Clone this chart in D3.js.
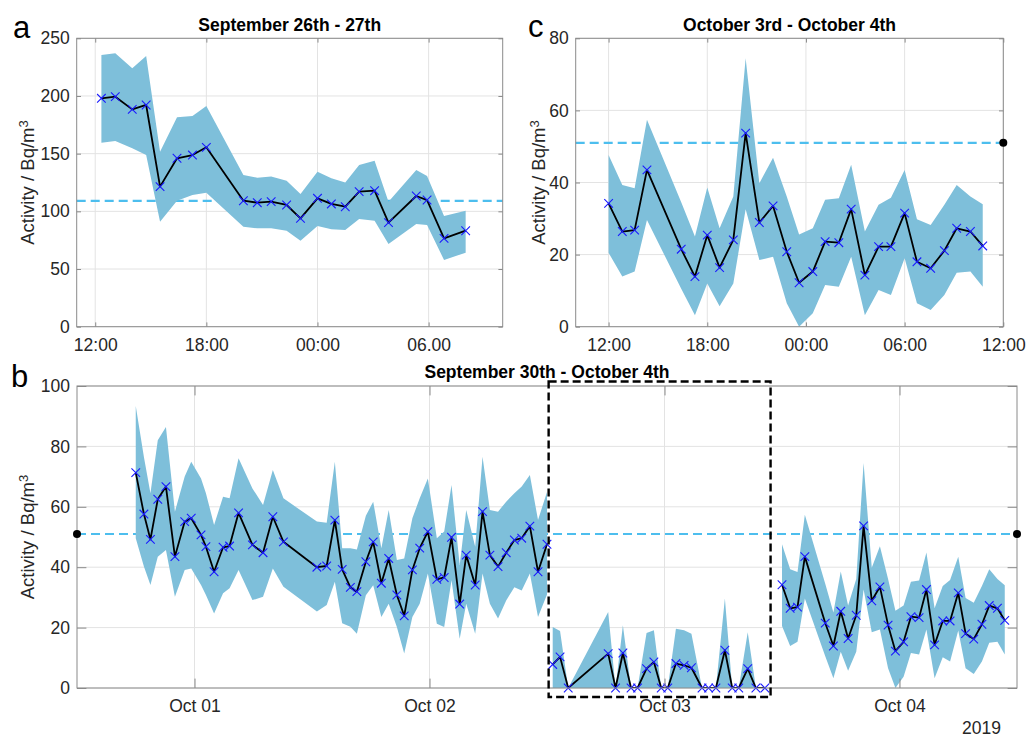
<!DOCTYPE html>
<html>
<head>
<meta charset="utf-8">
<script src="https://cdn.jsdelivr.net/npm/d3@7"></script>
<style>
  html, body { margin: 0; padding: 0; background: #fff; }
  svg { display: block; font-family: "Liberation Sans", Arial, Helvetica, sans-serif; }
</style>
</head>
<body>
<svg id="chart" width="1027" height="737"></svg>
<script>
// ---------------- DATA ----------------
// Panel a: September 26th - 27th
const timesA = ["2019-09-26 12:20","2019-09-26 13:05","2019-09-26 14:00","2019-09-26 14:45","2019-09-26 15:30","2019-09-26 16:25","2019-09-26 17:15","2019-09-26 18:00","2019-09-26 20:00","2019-09-26 20:45","2019-09-26 21:30","2019-09-26 22:20","2019-09-26 23:05","2019-09-27 00:00","2019-09-27 00:45","2019-09-27 01:30","2019-09-27 02:15","2019-09-27 03:05","2019-09-27 03:50","2019-09-27 05:20","2019-09-27 05:55","2019-09-27 06:50","2019-09-27 08:00"];
const valuesA = [198, 199.4, 188.4, 192.2, 121.4, 146, 148.8, 155.5, 109.2, 107.5, 108.4, 105.5, 93.9, 111.3, 106.4, 104, 117.1, 117.9, 90.2, 113.3, 109.8, 76.6, 83.2];
const upperA  = [235.5, 237, 224, 234.7, 151.7, 181.5, 182.7, 191.3, 131.5, 129.2, 130.1, 126.6, 115, 134.4, 128.6, 124.9, 140.2, 143.9, 108.4, 135.8, 130.6, 96, 100.6];
const lowerA  = [159.5, 161, 154.6, 148.8, 91, 109.2, 114.2, 116.2, 86.7, 85.3, 85.3, 83.2, 74.6, 87.3, 84.4, 83.8, 93.4, 91.9, 71.7, 89, 88.2, 57.8, 64.2];
const refA = 109;

// Panel c: October 3rd - October 4th (also the last segment of panel b)
const timesC = ["2019-10-03 12:00","2019-10-03 12:50","2019-10-03 13:35","2019-10-03 14:20","2019-10-03 16:25","2019-10-03 17:15","2019-10-03 18:00","2019-10-03 18:45","2019-10-03 19:35","2019-10-03 20:20","2019-10-03 21:10","2019-10-03 22:00","2019-10-03 22:50","2019-10-03 23:35","2019-10-04 00:25","2019-10-04 01:10","2019-10-04 02:00","2019-10-04 02:45","2019-10-04 03:35","2019-10-04 04:25","2019-10-04 05:10","2019-10-04 06:00","2019-10-04 06:45","2019-10-04 07:35","2019-10-04 08:25","2019-10-04 09:10","2019-10-04 10:00","2019-10-04 10:45"];
const valuesC = [34.2, 26.4, 26.8, 43.5, 21.5, 13.9, 25.4, 16.4, 24.1, 53.7, 28.9, 33.5, 20.8, 12.2, 15.3, 23.6, 23.3, 32.6, 14.3, 22.2, 22.2, 31.5, 18.0, 16.2, 21.1, 27.3, 26.4, 22.4];
const upperC  = [47.6, 39.3, 38.4, 57.4, 34.5, 25.0, 38.6, 27.3, 36.1, 74.5, 39.8, 46.9, 36.1, 25.6, 27.3, 35.2, 35.6, 44.9, 26.4, 33.8, 35.8, 43.5, 29.8, 28.2, 33.8, 39.3, 36.1, 34.0];
const lowerC  = [20.5, 13.9, 15.3, 29.6, 10.5, 3.2, 12.0, 5.7, 12.0, 32.6, 18.5, 19.4, 6.5, 0, 3.7, 11.6, 11.1, 19.4, 3.2, 10.2, 8.8, 19.0, 6.5, 4.6, 8.8, 15.0, 15.3, 11.1];
const refBC = 51;

// Panel b, segment 1: September 30th - October 2nd
const timesB1 = ["2019-09-30 18:00","2019-09-30 18:50","2019-09-30 19:30","2019-09-30 20:15","2019-09-30 21:05","2019-09-30 22:00","2019-09-30 23:00","2019-09-30 23:40","2019-10-01 00:40","2019-10-01 01:10","2019-10-01 02:00","2019-10-01 02:55","2019-10-01 03:35","2019-10-01 04:30","2019-10-01 05:55","2019-10-01 07:00","2019-10-01 08:00","2019-10-01 09:05","2019-10-01 12:30","2019-10-01 13:30","2019-10-01 14:20","2019-10-01 15:05","2019-10-01 15:55","2019-10-01 16:35","2019-10-01 17:30","2019-10-01 18:15","2019-10-01 19:05","2019-10-01 19:50","2019-10-01 20:40","2019-10-01 21:25","2019-10-01 22:15","2019-10-01 23:00","2019-10-01 23:50","2019-10-02 00:45","2019-10-02 01:30","2019-10-02 02:15","2019-10-02 03:05","2019-10-02 03:45","2019-10-02 04:40","2019-10-02 05:25","2019-10-02 06:10","2019-10-02 07:00","2019-10-02 07:50","2019-10-02 08:40","2019-10-02 09:25","2019-10-02 10:15","2019-10-02 11:05","2019-10-02 12:00"];
const valuesB1 = [71.3, 57.6, 49.2, 62.5, 66.7, 43.5, 55.1, 56.2, 50.7, 46.8, 38.5, 46.6, 47.0, 58.0, 47.4, 44.8, 56.7, 48.4, 40.0, 40.4, 55.6, 39.3, 33.3, 31.9, 41.8, 48.4, 34.7, 42.9, 30.8, 23.9, 39.1, 46.3, 51.8, 36.0, 36.6, 49.9, 27.8, 44.0, 34.1, 58.4, 44.0, 40.2, 44.8, 49.0, 49.6, 53.6, 38.5, 47.6];
const upperB1  = [93.4, 76.5, 64.5, 82.0, 86.4, 58.4, 70.0, 74.9, 69.4, 64.5, 54.0, 63.3, 62.8, 76.1, 66.1, 60.6, 72.2, 62.8, 55.1, 54.7, 74.9, 46.3, 46.3, 45.9, 57.0, 61.7, 46.3, 58.9, 42.4, 42.9, 56.2, 62.8, 69.4, 49.6, 51.8, 67.2, 40.7, 58.9, 46.8, 76.6, 58.9, 58.4, 61.7, 64.5, 66.7, 70.5, 55.6, 64.9];
const lowerB1  = [49.6, 40.2, 34.1, 43.5, 45.7, 30.2, 39.1, 39.6, 34.1, 30.8, 24.7, 31.4, 33.0, 39.1, 29.1, 30.2, 39.6, 33.5, 25.3, 27.5, 35.2, 21.4, 20.3, 18.0, 30.7, 34.0, 23.5, 27.9, 20.2, 11.4, 23.5, 27.9, 37.9, 21.3, 20.2, 35.7, 16.3, 27.9, 18.0, 37.9, 27.9, 23.0, 29.0, 33.4, 32.3, 37.9, 23.5, 31.0];

// Panel b, segment 2 (dashed box): October 2nd - 3rd
const timesB2 = ["2019-10-02 12:35","2019-10-02 13:20","2019-10-02 14:10","2019-10-02 18:15","2019-10-02 19:00","2019-10-02 19:45","2019-10-02 20:35","2019-10-02 21:15","2019-10-02 22:10","2019-10-02 22:55","2019-10-02 23:40","2019-10-03 00:20","2019-10-03 01:10","2019-10-03 02:00","2019-10-03 02:45","2019-10-03 03:50","2019-10-03 04:30","2019-10-03 05:15","2019-10-03 06:10","2019-10-03 06:55","2019-10-03 07:35","2019-10-03 08:30","2019-10-03 09:20","2019-10-03 10:15"];
const valuesB2 = [7.8, 10.3, 0, 11.4, 0, 11.6, 0, 0, 6.4, 8.6, 0, 0, 8.1, 7.5, 6.7, 0, 0, 0, 12.5, 0, 0, 6.4, 0, 0];
const upperB2  = [20.2, 18.9, 0, 25.2, 0, 20.8, 0, 0, 18.2, 19.1, 0, 0, 19.6, 19.1, 18.0, 0, 0, 0, 29.6, 0, 0, 18.5, 0, 0];
const lowerB2  = [0, 0, 0, 0, 0, 0, 0, 0, 0, 0, 0, 0, 0, 0, 0, 0, 0, 0, 0, 0, 0, 0, 0, 0];

// Axis domains and ticks
const domainA = ["2019-09-26 11:00", "2019-09-27 10:00"];
const domainC = ["2019-10-03 10:00", "2019-10-04 12:00"];
const domainB = ["2019-09-30 12:00", "2019-10-04 12:00"];
const tickTimesA = ["2019-09-26 12:00","2019-09-26 18:00","2019-09-27 00:00","2019-09-27 06:00"];
const tickLabelsA = ["12:00","18:00","00:00","06.00"];
const tickTimesC = ["2019-10-03 12:00","2019-10-03 18:00","2019-10-04 00:00","2019-10-04 06:00","2019-10-04 12:00"];
const tickLabelsC = ["12:00","18:00","00:00","06:00","12:00"];
const tickTimesB = ["2019-10-01 00:00","2019-10-02 00:00","2019-10-03 00:00","2019-10-04 00:00"];
const tickLabelsB = ["Oct 01","Oct 02","Oct 03","Oct 04"];
const yTicksA = [0, 50, 100, 150, 200, 250];
const yTicksC = [0, 20, 40, 60, 80];
const yTicksB = [0, 20, 40, 60, 80, 100];
const zoomBoxTimes = ["2019-10-02 12:10", "2019-10-03 10:50"];
const zoomBoxValues = [-3, 101.5];

// ---------------- DRAWING ----------------
const parse = d3.timeParse("%Y-%m-%d %H:%M");
const svg = d3.select("#chart");
const FILL = "#7ebfda", REF = "#4dbeee", MARK = "#1a1aff", TXT = "#262626", AX = "#8a8a8a", GRID = "#e3e3e3";
const FS = 17.5;

function rows(times, v, hi, lo) {
  return times.map((t, i) => ({ t: parse(t), v: v[i], hi: hi[i], lo: lo[i] }));
}

function panel(cfg) {
  const { id, L, R, T, B } = cfg;
  const W = R - L, H = B - T;
  const x = d3.scaleTime().domain(cfg.xDomain.map(parse)).range([0, W]);
  const y = d3.scaleLinear().domain(cfg.yDomain).range([H, 0]);
  const g = svg.append("g").attr("transform", `translate(${L},${T})`);

  g.append("clipPath").attr("id", "clip-" + id)
    .append("rect").attr("width", W).attr("height", H);

  // grid
  const grid = g.append("g");
  grid.selectAll(".gx").data(cfg.xTicks.map(parse)).join("line")
    .attr("x1", d => x(d)).attr("x2", d => x(d)).attr("y1", 0).attr("y2", H)
    .attr("stroke", GRID).attr("stroke-width", 1);
  grid.selectAll(".gy").data(cfg.yTicks).join("line")
    .attr("x1", 0).attr("x2", W).attr("y1", d => y(d)).attr("y2", d => y(d))
    .attr("stroke", GRID).attr("stroke-width", 1);

  // reference dashed line (under the fill)
  g.append("line").attr("x1", 0).attr("x2", W)
    .attr("y1", y(cfg.ref)).attr("y2", y(cfg.ref))
    .attr("stroke", REF).attr("stroke-width", 2.2).attr("stroke-dasharray", "9,5");

  const plot = g.append("g").attr("clip-path", `url(#clip-${id})`);
  const area = d3.area().x(d => x(d.t)).y0(d => y(d.lo)).y1(d => y(d.hi));
  const line = d3.line().x(d => x(d.t)).y(d => y(d.v));

  cfg.segments.forEach(seg => {
    plot.append("path").datum(seg).attr("d", area).attr("fill", FILL).attr("stroke", "none");
  });
  cfg.segments.forEach(seg => {
    plot.append("path").datum(seg).attr("d", line).attr("fill", "none")
      .attr("stroke", "#000").attr("stroke-width", 1.8).attr("stroke-linejoin", "round");
  });
  const m = 4.3;
  cfg.segments.forEach(seg => {
    g.append("g").selectAll("path").data(seg).join("path")
      .attr("d", d => {
        const cx = x(d.t), cy = y(d.v);
        return `M${cx - m},${cy - m}L${cx + m},${cy + m}M${cx - m},${cy + m}L${cx + m},${cy - m}`;
      })
      .attr("stroke", MARK).attr("stroke-width", 1.1).attr("fill", "none");
  });

  // axes (MATLAB-like: ticks inward on all four sides)
  const tl = cfg.tickLen;
  const xt = cfg.xTicks.map(parse);
  const axB = d3.axisBottom(x).tickValues(xt).tickFormat((d, i) => cfg.xLabels[i])
    .tickSizeInner(-tl).tickSizeOuter(0).tickPadding(12);
  const axT = d3.axisTop(x).tickValues(xt).tickFormat("").tickSizeInner(-tl).tickSizeOuter(0);
  const axL = d3.axisLeft(y).tickValues(cfg.yTicks).tickFormat(d3.format("d"))
    .tickSizeInner(-tl).tickSizeOuter(0).tickPadding(7);
  const axR = d3.axisRight(y).tickValues(cfg.yTicks).tickFormat("").tickSizeInner(-tl).tickSizeOuter(0);

  function style(sel) {
    sel.select(".domain").remove();
    sel.selectAll(".tick line").attr("stroke", AX).attr("stroke-width", 1);
    sel.selectAll(".tick text").attr("fill", TXT).style("font-size", FS + "px")
      .style("font-family", '"Liberation Sans", Arial, sans-serif');
  }
  g.append("g").attr("transform", `translate(0,${H})`).call(axB).call(style);
  g.append("g").call(axT).call(style);
  g.append("g").call(axL).call(style);
  g.append("g").attr("transform", `translate(${W},0)`).call(axR).call(style);
  g.append("rect").attr("width", W).attr("height", H)
    .attr("fill", "none").attr("stroke", AX).attr("stroke-width", 1);

  // reference dots at axis edges
  (cfg.dots || []).forEach(side => {
    g.append("circle").attr("cx", side === "left" ? 0 : W).attr("cy", y(cfg.ref))
      .attr("r", 4).attr("fill", "#000");
  });

  // title
  svg.append("text").attr("x", L + W / 2).attr("y", cfg.titleY)
    .attr("text-anchor", "middle").attr("fill", "#000")
    .style("font-size", "17.5px").style("font-weight", "bold")
    .text(cfg.title);

  // y label
  const yl = svg.append("text")
    .attr("transform", `translate(${cfg.ylabelX},${T + H / 2}) rotate(-90)`)
    .attr("text-anchor", "middle").attr("fill", TXT).style("font-size", "18.5px");
  yl.append("tspan").text("Activity / Bq/m");
  yl.append("tspan").attr("dy", "-0.45em").style("font-size", "13px").text("3");

  // panel letter
  svg.append("text").attr("x", cfg.letterX).attr("y", cfg.letterY)
    .attr("fill", "#000").style("font-size", "31px").text(cfg.letter);

  return { g, x, y, W, H };
}

panel({
  id: "a", L: 76.7, R: 502.7, T: 38.3, B: 326.7,
  xDomain: domainA, yDomain: [0, 250],
  xTicks: tickTimesA, xLabels: tickLabelsA, yTicks: yTicksA, tickLen: 4.3,
  ref: refA, segments: [rows(timesA, valuesA, upperA, lowerA)],
  title: "September 26th - 27th", titleY: 30.5,
  ylabelX: 34, letter: "a", letterX: 13, letterY: 38
});

panel({
  id: "c", L: 575.7, R: 1003.3, T: 38.3, B: 326.7,
  xDomain: domainC, yDomain: [0, 80],
  xTicks: tickTimesC, xLabels: tickLabelsC, yTicks: yTicksC, tickLen: 4.3,
  ref: refBC, segments: [rows(timesC, valuesC, upperC, lowerC)], dots: ["right"],
  title: "October 3rd - October 4th", titleY: 30.5,
  ylabelX: 545, letter: "c", letterX: 528, letterY: 37
});

const pb = panel({
  id: "b", L: 77, R: 1017, T: 386, B: 688,
  xDomain: domainB, yDomain: [0, 100],
  xTicks: tickTimesB, xLabels: tickLabelsB, yTicks: yTicksB, tickLen: 9.4,
  ref: refBC,
  segments: [rows(timesB1, valuesB1, upperB1, lowerB1),
             rows(timesB2, valuesB2, upperB2, lowerB2),
             rows(timesC, valuesC, upperC, lowerC)],
  dots: ["left", "right"],
  title: "September 30th - October 4th", titleY: 378,
  ylabelX: 34, letter: "b", letterX: 11, letterY: 387
});

// dashed zoom box in panel b
{
  const bx0 = pb.x(parse(zoomBoxTimes[0])), bx1 = pb.x(parse(zoomBoxTimes[1]));
  const by0 = pb.y(zoomBoxValues[1]), by1 = pb.y(zoomBoxValues[0]);
  pb.g.append("rect").attr("x", bx0).attr("y", by0)
    .attr("width", bx1 - bx0).attr("height", by1 - by0)
    .attr("fill", "none").attr("stroke", "#000").attr("stroke-width", 2.4)
    .attr("stroke-dasharray", "8,4");
}

// year label
svg.append("text").attr("x", 1001).attr("y", 734).attr("text-anchor", "end")
  .attr("fill", TXT).style("font-size", FS + "px").text("2019");
</script>
</body>
</html>
